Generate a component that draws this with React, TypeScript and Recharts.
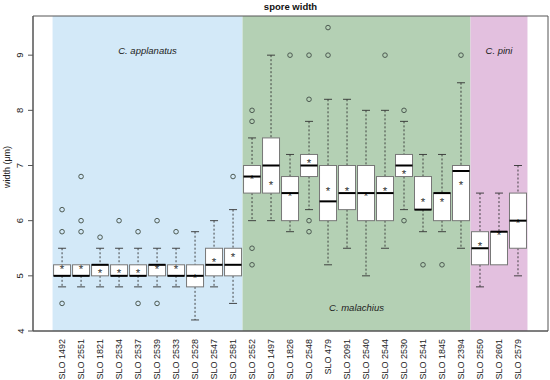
import React from 'react';
import { ComposedChart, XAxis, YAxis, Bar, Scatter, ReferenceArea } from 'recharts';

const labels = [
  'SLO 1492', 'SLO 2551', 'SLO 1821', 'SLO 2534', 'SLO 2537', 'SLO 2539', 'SLO 2533', 'SLO 2528',
  'SLO 2547', 'SLO 2581', 'SLO 2552', 'SLO 1497', 'SLO 1826', 'SLO 2548', 'SLO 479', 'SLO 2091',
  'SLO 2540', 'SLO 2544', 'SLO 2530', 'SLO 2541', 'SLO 1845', 'SLO 2394', 'SLO 2550', 'SLO 2601',
  'SLO 2579',
];

const lower = [4.8, 4.8, 4.8, 4.8, 4.8, 4.8, 4.8, 4.2, 4.8, 4.5, 6.0, 6.0, 5.8, 6.2, 5.2, 5.5, 5.0, 5.5, 6.2, 5.8, 5.8, 5.5, 4.8, 5.2, 5.0];
const q1 = [5.0, 5.0, 5.0, 5.0, 5.0, 5.0, 5.0, 4.8, 5.0, 5.0, 6.5, 6.5, 6.0, 6.8, 6.0, 6.2, 6.0, 6.0, 6.8, 6.2, 6.0, 6.0, 5.2, 5.2, 5.5];
const median = [5.0, 5.0, 5.2, 5.0, 5.0, 5.2, 5.0, 5.0, 5.2, 5.2, 6.8, 7.0, 6.5, 7.0, 6.35, 6.5, 6.5, 6.5, 7.0, 6.2, 6.5, 6.9, 5.5, 5.8, 6.0];
const q3 = [5.2, 5.2, 5.2, 5.2, 5.2, 5.2, 5.2, 5.2, 5.5, 5.5, 7.0, 7.5, 6.8, 7.2, 7.0, 7.0, 7.0, 6.8, 7.2, 6.8, 6.5, 7.0, 5.8, 5.8, 6.5];
const upper = [5.5, 5.2, 5.5, 5.5, 5.5, 5.5, 5.5, 5.8, 6.0, 6.2, 7.5, 9.0, 7.2, 7.8, 8.2, 8.2, 8.0, 8.0, 7.8, 7.2, 7.2, 8.5, 6.5, 6.5, 7.0];
const mean = [5.18, 5.18, 5.09, 5.09, 5.09, 5.18, 5.18, 5.0, 5.29, 5.38, 6.8, 6.69, 6.5, 7.09, 6.59, 6.59, 6.5, 6.59, 6.89, 6.39, 6.39, 6.69, 5.59, 5.78, 6.0];
const outliers = [
  [6.2, 5.8, 4.5], [6.8, 6.0, 5.8], [5.7], [6.0], [5.8, 4.5], [6.0, 4.5], [5.8], [], [], [6.8],
  [8.0, 7.8, 5.5, 5.2], [], [9.0], [9.0, 8.2, 6.0, 5.8], [9.5, 9.0], [], [], [9.0], [8.0, 6.0],
  [5.2], [5.2], [9.0], [], [], [],
];

const yTicks = [4, 5, 6, 7, 8, 9];

const boxes = labels.map((name, i) => ({
  x: i + 1,
  name,
  lo: lower[i],
  q1: q1[i],
  med: median[i],
  q3: q3[i],
  hi: upper[i],
  mean: mean[i],
}));

const outlierPoints = outliers.flatMap((arr, i) => arr.map((v) => ({ x: i + 1, y: v })));

const FONT = 'Liberation Sans, Arial, Helvetica, sans-serif';
const X_MIN = -0.53;
const X_MAX = 26.58;

// bar spans lo..hi, the rest of the box is placed along that span
const BoxShape = (props: any) => {
  const { x, y, width, height, payload } = props;
  if (payload == null || width == null) return null;
  const top = Math.min(y, y + height);
  const bottom = Math.max(y, y + height);
  const { lo, hi } = payload;
  const py = (v: number) => (hi === lo ? top : top + ((hi - v) / (hi - lo)) * (bottom - top));
  const cx = x + width / 2;
  const cap = 4;
  const yq1 = py(payload.q1);
  const yq3 = py(payload.q3);
  const ymed = py(payload.med);
  const ymean = py(payload.mean);
  return (
    <g>
      {payload.hi > payload.q3 && (
        <g stroke="#333" strokeWidth={0.9}>
          <line x1={cx} x2={cx} y1={top} y2={yq3} strokeDasharray="2 2" />
          <line x1={cx - cap} x2={cx + cap} y1={top} y2={top} />
        </g>
      )}
      {payload.lo < payload.q1 && (
        <g stroke="#333" strokeWidth={0.9}>
          <line x1={cx} x2={cx} y1={yq1} y2={bottom} strokeDasharray="2 2" />
          <line x1={cx - cap} x2={cx + cap} y1={bottom} y2={bottom} />
        </g>
      )}
      <rect x={x} y={yq3} width={width} height={yq1 - yq3} fill="#fff" stroke="#777" strokeWidth={1} />
      <text x={cx} y={ymean + 6.6} textAnchor="middle" fontSize={11.5} fill="#333" fontFamily={FONT}>*</text>
      <line x1={x} x2={x + width} y1={ymed} y2={ymed} stroke="#000" strokeWidth={2} />
    </g>
  );
};

const OutlierDot = (props: any) => {
  const { cx, cy } = props;
  if (cx == null || cy == null) return null;
  return <circle cx={cx} cy={cy} r={2.3} fill="none" stroke="#4d5a52" strokeWidth={1} />;
};

const XTick = (props: any) => {
  const { x, y, payload } = props;
  const label = labels[payload.value - 1] ?? '';
  return (
    <text
      x={x}
      y={y}
      dy="0.35em"
      transform={`rotate(-90, ${x}, ${y})`}
      textAnchor="end"
      fontSize={9}
      fill="#222"
      fontFamily={FONT}
    >
      {label}
    </text>
  );
};

const YTick = (props: any) => {
  const { x, y, payload } = props;
  const tx = x - 2.5;
  return (
    <text
      x={tx}
      y={y}
      transform={`rotate(-90, ${tx}, ${y})`}
      textAnchor="middle"
      fontSize={9.5}
      fill="#222"
      fontFamily={FONT}
    >
      {payload.value}
    </text>
  );
};

const regionLabel = (value: string, position: string, offset: number) => ({
  value,
  position,
  offset,
  fontSize: 9.5,
  fontStyle: 'italic',
  fill: '#222',
  fontFamily: FONT,
});

export default function App() {
  return (
    <div style={{ position: 'absolute', left: 0, top: 0, width: 550, height: 380, background: '#fff' }}>
      <div
        style={{
          position: 'absolute',
          left: 0,
          top: 1,
          width: 581,
          textAlign: 'center',
          fontFamily: FONT,
          fontWeight: 'bold',
          fontSize: 9.5,
          color: '#111',
        }}
      >
        spore width
      </div>
      <div
        style={{
          position: 'absolute',
          left: 7,
          top: 167,
          transform: 'translate(-50%, -50%) rotate(-90deg)',
          fontFamily: FONT,
          fontSize: 9,
          color: '#222',
          whiteSpace: 'nowrap',
        }}
      >
        width (μm)
      </div>
      <ComposedChart width={550} height={380} data={boxes} margin={{ top: 16, right: 2, bottom: 0, left: 0 }}>
        <XAxis
          type="number"
          dataKey="x"
          domain={[X_MIN, X_MAX]}
          allowDataOverflow
          ticks={labels.map((_, i) => i + 1)}
          interval={0}
          tick={(p: any) => <XTick {...p} />}
          tickLine={false}
          axisLine={{ stroke: '#555' }}
          height={49}
        />
        <YAxis
          type="number"
          dataKey="y"
          domain={[4, 9.71]}
          allowDataOverflow
          ticks={yTicks}
          interval={0}
          width={33}
          tickSize={5}
          tickLine={{ stroke: '#555' }}
          axisLine={{ stroke: '#555' }}
          tick={(p: any) => <YTick {...p} />}
        />
        <ReferenceArea x1={0.5} x2={10.5} fill="#d3e9f8" fillOpacity={1} label={regionLabel('C. applanatus', 'insideTop', 31)} />
        <ReferenceArea x1={10.5} x2={22.5} fill="#b4d0b4" fillOpacity={1} label={regionLabel('C. malachius', 'insideBottom', 20)} />
        <ReferenceArea x1={22.5} x2={25.5} fill="#e3c0df" fillOpacity={1} label={regionLabel('C. pini', 'insideTop', 31)} />
        <Bar dataKey={(d: any) => [d.lo, d.hi]} barSize={17} shape={BoxShape} isAnimationActive={false} />
        <Scatter data={outlierPoints} dataKey="y" shape={OutlierDot} isAnimationActive={false} />
        <ReferenceArea x1={X_MIN} x2={X_MAX} y1={4} y2={9.71} fill="none" stroke="#555" />
      </ComposedChart>
    </div>
  );
}
